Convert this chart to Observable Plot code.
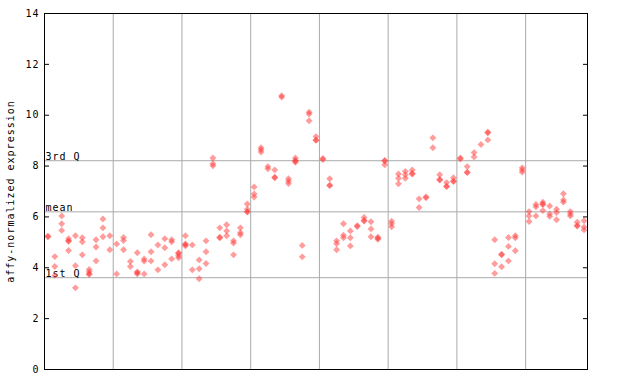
<!DOCTYPE html>
<html><head><meta charset="utf-8">
<script src="https://cdn.jsdelivr.net/npm/d3@7"></script>
<script src="https://cdn.jsdelivr.net/npm/@observablehq/plot@0.6"></script>
<style>body{margin:0;background:#fff}</style>
</head><body><div id="chart"></div>
<script>
// replicate expression values per sample (79 samples, 8 groups of 10)
const expression = [
  [5.24,5.22],[4.44,4.05,3.70],[6.04,5.73,5.47],[5.14,5.06,5.04,4.68],[5.26,4.08,3.21],
  [5.18,5.02,4.51],[3.93,3.84,3.76,3.74],[5.10,4.82,4.27],[5.92,5.57,5.22],[5.26,4.71],
  [4.94,3.76],[5.19,5.07,4.71],[4.25,4.05],[4.59,3.84,3.80,3.76],[4.35,4.26,3.76],
  [5.30,4.63,4.27],[4.90,3.92],[5.14,4.79,4.12],[5.10,5.02,4.35],[4.59,4.56,4.47,4.39],
  [5.26,4.94,4.91,4.86],[4.90,3.92],[4.31,3.96,3.57],[5.06,4.63,4.17],[8.32,8.09,8.01],
  [5.57,5.20,5.18],[5.69,5.45,5.26],[5.06,4.97,4.51],[5.57,5.38,5.30],[6.51,6.30,6.21,6.19],
  [7.18,6.90,6.78],[8.72,8.64,8.55],[7.98,7.89],[7.85,7.56,7.54],[10.77,10.71],
  [7.50,7.41,7.31],[8.32,8.22,8.20,8.15],[4.88,4.43],[10.12,10.05,9.78],[9.16,9.03,9.01],
  [8.30,8.26],[7.50,7.25,7.23],[5.06,4.95,4.71],[5.73,5.28,5.18],[5.45,5.18,4.86],
  [5.66,5.62],[5.98,5.86,5.84],[5.81,5.53,5.22],[5.20,5.16,5.12],[8.22,8.20,8.05],
  [5.83,5.73,5.61],[7.69,7.52,7.30],[7.79,7.66,7.52],[7.85,7.71,7.69],[6.71,6.37],
  [6.79,6.75],[9.11,8.72],[7.66,7.47,7.45],[7.35,7.21,7.19],[7.54,7.41,7.39],
  [8.32,8.28],[7.98,7.76,7.74],[8.53,8.36],[8.85],[9.33,9.31,9.03],
  [5.10,4.16,3.78],[4.53,4.51,4.04],[5.19,4.84,4.27],[5.26,5.18,4.67],[7.93,7.85,7.76],
  [6.21,6.04,5.82],[6.49,6.40,6.04],[6.58,6.51,6.49,6.25],[6.43,6.12,6.02],[6.30,6.17,5.89],
  [6.91,6.67,6.58],[6.21,6.12,6.04],[5.79,5.66,5.64],[5.85,5.60,5.49]
];
const groupSize = 10;
const yTicks = [0, 2, 4, 6, 8, 10, 12, 14];
const refLabels = ["3rd Q", "mean", "1st Q"];
const refValues = [8.21, 6.20, 3.61];

const points = expression.flatMap((vals, i) => vals.map(v => ({sample: i, value: v})));
const boundaries = d3.range(groupSize, expression.length, groupSize).map(b => b - 0.5);
const refs = refLabels.map((label, k) => ({label, value: refValues[k]}));

const chart = Plot.plot({
  width: 640, height: 384,
  marginLeft: 44, marginRight: 53, marginTop: 13, marginBottom: 15,
  style: {fontFamily: "'DejaVu Sans Mono', monospace", fontSize: "10px", background: "#fff", color: "#000", letterSpacing: "1px"},
  x: {domain: [-0.5, expression.length - 0.5], axis: null},
  y: {domain: [0, 14], ticks: yTicks, label: "affy-normalized expression"},
  marks: [
    Plot.ruleX(boundaries, {stroke: "#aaa", strokeWidth: 1}),
    Plot.ruleY(refs, {y: "value", stroke: "#aaa", strokeWidth: 1}),
    Plot.text(refs, {y: "value", text: "label", frameAnchor: "left", textAnchor: "start", lineAnchor: "bottom", dx: 1, dy: -1, fill: "#000"}),
    Plot.dot(points, {x: "sample", y: "value", symbol: "diamond2", r: 3.1, fill: "#ff3b3b", fillOpacity: 0.5}),
    Plot.axisY(yTicks, {anchor: "left", tickSize: -5, tickPadding: 10, label: "affy-normalized expression", labelAnchor: "center", labelOffset: 38, labelArrow: "none"}),
    Plot.axisY(yTicks, {anchor: "right", tickSize: -5, tickFormat: () => "", label: null}),
    Plot.frame({stroke: "#000"})
  ]
});
document.getElementById("chart").appendChild(chart);
</script>
</body></html>
